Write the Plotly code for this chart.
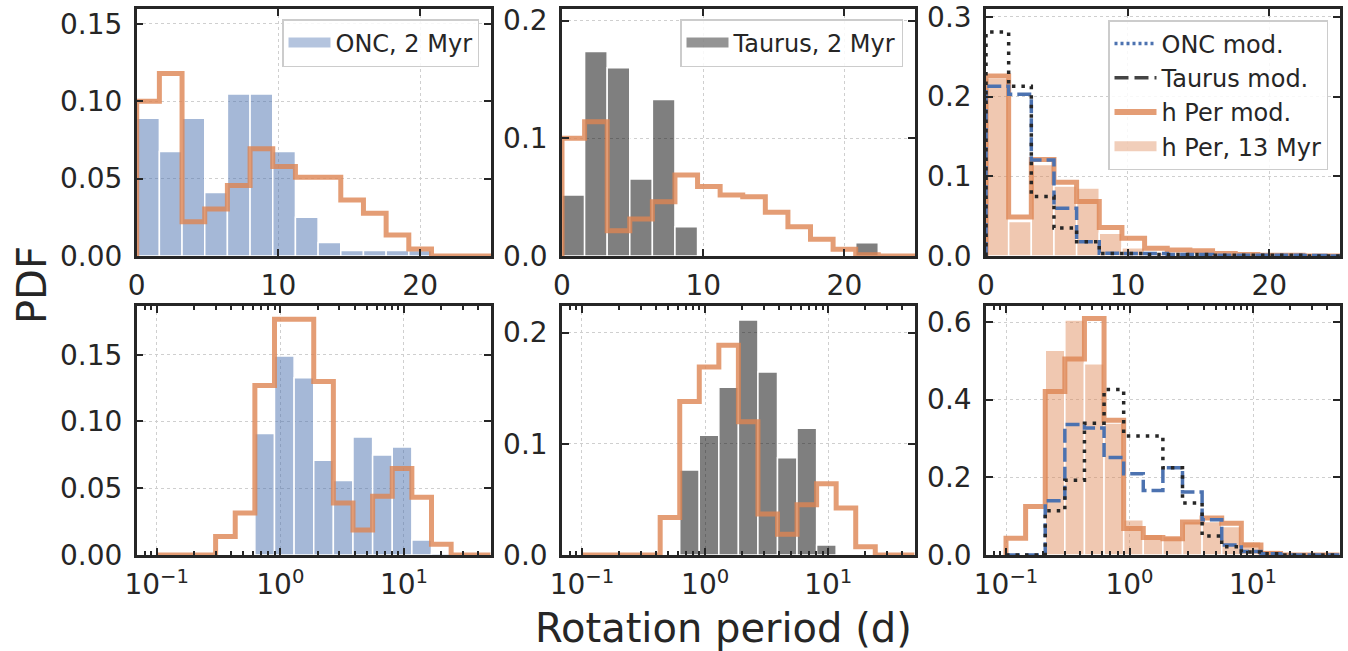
import numpy as np
import plotly.graph_objects as go

# ---------------- data ----------------
# linear bins (top row), width 1.6 d
lin_edges = [0.0, 1.6, 3.2, 4.8, 6.4, 8.0, 9.6, 11.2, 12.8, 14.4, 16.0, 17.6, 19.2, 20.8, 22.4, 24.0, 25.6]
# logarithmic bins (bottom row), 17 bins from 0.1 to 50 d
log_edges = list(np.logspace(-1, np.log10(50), 18))

# top row (linear bins)
onc_obs_lin = [0.089, 0.0675, 0.089, 0.041, 0.1047, 0.1047, 0.0675, 0.025, 0.0088, 0.0035, 0.0035, 0.0035, 0.0035, 0, 0, 0]
onc_hper_lin = [0.100, 0.118, 0.0222, 0.0304, 0.0455, 0.0694, 0.0578, 0.0509, 0.0509, 0.0362, 0.0276, 0.0136, 0.0045, 0, 0, 0]
tau_obs_lin = [0.0518, 0.1737, 0.160, 0.0654, 0.133, 0.0249, 0, 0, 0, 0, 0, 0, 0, 0.0113, 0, 0]
tau_hper_lin = [0.100, 0.114, 0.0215, 0.0314, 0.046, 0.0688, 0.059, 0.0518, 0.0504, 0.0371, 0.0249, 0.0142, 0.0057, 0.001, 0, 0]
hper_obs_lin = [0.223, 0.0432, 0.1147, 0.088, 0.0853, 0.0286, 0.0105, 0.004, 0.002, 0.002, 0.001, 0, 0, 0, 0, 0]
hper_mod_lin = [0.226, 0.0488, 0.121, 0.0924, 0.0685, 0.0357, 0.0223, 0.0097, 0.0075, 0.0065, 0.003, 0.002, 0.001, 0.001, 0, 0]
onc_mod_lin = [0.213, 0.203, 0.1205, 0.060, 0.018, 0.0034, 0.003, 0.003, 0.002, 0.002, 0.001, 0.001, 0.001, 0.001, 0.0005, 0]
tau_mod_lin = [0.281, 0.213, 0.0748, 0.035, 0.018, 0.003, 0.003, 0.002, 0.002, 0.002, 0.001, 0.001, 0.001, 0.001, 0, 0]

# bottom row (log bins)
onc_obs_log = [0, 0, 0, 0, 0, 0.091, 0.149, 0.1327, 0.0709, 0.0558, 0.0884, 0.0749, 0.0809, 0.0113, 0.0013, 0, 0]
onc_hper_log = [0, 0, 0, 0.0138, 0.0314, 0.127, 0.1766, 0.1766, 0.130, 0.039, 0.0188, 0.044, 0.0648, 0.0432, 0.008, 0, 0]
tau_obs_log = [0, 0, 0, 0, 0, 0.0763, 0.1077, 0.1508, 0.2112, 0.1644, 0.0875, 0.114, 0.009, 0, 0, 0, 0]
tau_hper_log = [0, 0, 0, 0, 0.0338, 0.138, 0.169, 0.1885, 0.1198, 0.0368, 0.0187, 0.0452, 0.064, 0.0422, 0.0075, 0, 0]
hper_obs_log = [0, 0, 0.527, 0.605, 0.4925, 0.34, 0.0907, 0.0535, 0.0474, 0.0863, 0.0863, 0.0734, 0.035, 0.013, 0, 0, 0]
hper_mod_log = [0.043, 0.125, 0.421, 0.505, 0.609, 0.347, 0.068, 0.045, 0.042, 0.085, 0.095, 0.082, 0.026, 0.004, 0, 0, 0]
onc_mod_log = [0, 0, 0.14, 0.336, 0.327, 0.251, 0.209, 0.166, 0.2246, 0.162, 0.091, 0.026, 0.009, 0.003, 0, 0, 0]
tau_mod_log = [0, 0, 0.114, 0.1926, 0.3396, 0.426, 0.3067, 0.3067, 0.2246, 0.134, 0.049, 0.0215, 0.008, 0.003, 0, 0, 0]

x_ticks_lin = [0, 10, 20]
x_ticks_log = [0.1, 1, 10]
x_ticktext_log = ["10<sup>−1</sup>", "10<sup>0</sup>", "10<sup>1</sup>"]
minor_log = [0.07, 0.08, 0.09] + [k * 0.1 for k in range(2, 10)] + list(range(2, 10)) + [20, 30, 40, 50]

legend_labels = ["ONC, 2 Myr", "Taurus, 2 Myr", "ONC mod.", "Taurus mod.", "h Per mod.", "h Per, 13 Myr"]

# ---------------- styles ----------------
BLUE_BAR = "rgba(76,114,176,0.5)"
GRAY_BAR = "rgba(0,0,0,0.5)"
ORANGE_BAR = "rgba(221,132,82,0.45)"
ORANGE_LINE = "rgba(221,132,82,0.8)"
BLUE_LINE = "#4c72b0"
BLACK_LINE = "#262626"
TXT = "#262626"
FONT = "DejaVu Sans"

W, H = 1348, 651
xdom = [(136.7 / W, 491 / W), (562 / W, 915 / W), (986 / W, 1340 / W)]
ydom = [(1 - 256 / H, 1 - 9.3 / H), (1 - 555 / H, 1 - 305.7 / H)]
LOG_RANGE = [-1.162, 1.704]

fig = go.Figure()


def step_xy(edges, vals):
    x = [edges[0]] + list(edges) + [edges[-1]]
    y = [0] + list(vals) + [vals[-1], 0]
    return x, y


def add_bars(edges, vals, color, ax):
    e = np.array(edges, dtype=float)
    centers = (e[:-1] + e[1:]) / 2
    widths = e[1:] - e[:-1]
    fig.add_trace(go.Bar(x=list(centers), y=vals, width=list(widths),
                         marker=dict(color=color, line=dict(color="white", width=1.5)),
                         showlegend=False, xaxis="x" + ax, yaxis="y" + ax))


def add_step(edges, vals, color, width, dash, ax):
    x, y = step_xy(edges, vals)
    fig.add_trace(go.Scatter(x=x, y=y, mode="lines", line=dict(shape="hv", color=color, width=width, dash=dash),
                             showlegend=False, xaxis="x" + ax, yaxis="y" + ax, hoverinfo="skip"))


def add_legend_line(name, color, width, dash, ax, legend):
    fig.add_trace(go.Scatter(x=[None], y=[None], mode="lines", name=name,
                             line=dict(color=color, width=width, dash=dash),
                             xaxis="x" + ax, yaxis="y" + ax, legend=legend, showlegend=True))


# panel 1 (top-left)
add_bars(lin_edges, onc_obs_lin, BLUE_BAR, "")
add_step(lin_edges, onc_hper_lin, ORANGE_LINE, 5, "solid", "")
add_legend_line(legend_labels[0], "rgba(76,114,176,0.42)", 13, "solid", "", "legend")
# panel 2 (top-middle)
add_bars(lin_edges, tau_obs_lin, GRAY_BAR, "2")
add_step(lin_edges, tau_hper_lin, ORANGE_LINE, 5, "solid", "2")
add_legend_line(legend_labels[1], "rgba(0,0,0,0.42)", 13, "solid", "2", "legend2")
# panel 3 (top-right)
add_bars(lin_edges, hper_obs_lin, ORANGE_BAR, "3")
add_step(lin_edges, hper_mod_lin, ORANGE_LINE, 5, "solid", "3")
add_step(lin_edges, onc_mod_lin, BLUE_LINE, 3.5, "14px,5px", "3")
add_step(lin_edges, tau_mod_lin, BLACK_LINE, 3.5, "3.5px,6px", "3")
add_legend_line(legend_labels[2], BLUE_LINE, 3.5, "3px,3px", "3", "legend3")
add_legend_line(legend_labels[3], "#444444", 3.5, "14px,6px", "3", "legend3")
add_legend_line(legend_labels[4], ORANGE_LINE, 6, "solid", "3", "legend3")
add_legend_line(legend_labels[5], "rgba(221,132,82,0.4)", 13, "solid", "3", "legend3")
# panel 4 (bottom-left)
add_bars(log_edges, onc_obs_log, BLUE_BAR, "4")
add_step(log_edges, onc_hper_log, ORANGE_LINE, 5, "solid", "4")
# panel 5 (bottom-middle)
add_bars(log_edges, tau_obs_log, GRAY_BAR, "5")
add_step(log_edges, tau_hper_log, ORANGE_LINE, 5, "solid", "5")
# panel 6 (bottom-right)
add_bars(log_edges, hper_obs_log, ORANGE_BAR, "6")
add_step(log_edges, hper_mod_log, ORANGE_LINE, 5, "solid", "6")
add_step(log_edges, onc_mod_log, BLUE_LINE, 3.5, "14px,5px", "6")
add_step(log_edges, tau_mod_log, BLACK_LINE, 3.5, "3.5px,6px", "6")

# invisible traces that attach the top-side tick axes of the bottom row
for k in ["7", "8", "9"]:
    fig.add_trace(go.Scatter(x=[None], y=[None], mode="lines", showlegend=False,
                             xaxis="x" + k, yaxis="y" + k, hoverinfo="skip"))


def axis_common():
    return dict(showline=True, linecolor=TXT, linewidth=2.5, mirror="allticks",
                ticks="inside", ticklen=7, tickwidth=1.8, tickcolor=TXT, automargin=False,
                showgrid=True, gridcolor="#cfcfcf", griddash="dot", gridwidth=1.2,
                zeroline=False, tickfont=dict(family=FONT, size=28, color=TXT))


def minor_ticks():
    return dict(tickvals=minor_log, ticks="inside", ticklen=4, tickwidth=1.5, tickcolor=TXT, showgrid=False)


yranges = [0.1595, 0.2096, 0.3096, 0.1867, 0.2241, 0.642]
yticks = [[0, 0.05, 0.10, 0.15], [0, 0.1, 0.2], [0, 0.1, 0.2, 0.3],
          [0, 0.05, 0.10, 0.15], [0, 0.1, 0.2], [0, 0.2, 0.4, 0.6]]
yfmt = [".2f", ".1f", ".1f", ".2f", ".1f", ".1f"]

layout_axes = {}
for i in range(6):
    row, col = divmod(i, 3)
    suffix = "" if i == 0 else str(i + 1)
    xa = axis_common()
    xa.update(domain=list(xdom[col]), anchor="y" + suffix, ticklabelstandoff=3)
    if row == 0:
        xa.update(range=[0, 25], tickvals=x_ticks_lin)
    else:
        xa.update(type="log", range=LOG_RANGE, tickvals=x_ticks_log, ticktext=x_ticktext_log,
                  minor=minor_ticks())
        k = str(i + 4)
        # top-side tick axis (own hidden y axis) carrying the major + minor ticks
        layout_axes["xaxis" + k] = dict(
            type="log", range=LOG_RANGE, domain=list(xdom[col]), anchor="y" + k, side="top",
            tickvals=x_ticks_log, showticklabels=False, ticks="inside", ticklen=7, tickwidth=1.8,
            tickcolor=TXT, showgrid=False, showline=False, zeroline=False, automargin=False,
            minor=minor_ticks())
        layout_axes["yaxis" + k] = dict(
            domain=list(ydom[row]), anchor="x" + k, range=[0, 1], visible=False,
            showgrid=False, zeroline=False, automargin=False)
    ya = axis_common()
    ya.update(domain=list(ydom[row]), anchor="x" + suffix, range=[0, yranges[i]],
              tickvals=yticks[i], tickformat=yfmt[i], ticklabelstandoff=6)
    layout_axes["xaxis" + suffix] = xa
    layout_axes["yaxis" + suffix] = ya

legend_common = dict(bgcolor="rgba(255,255,255,0.85)", bordercolor="#cccccc", borderwidth=1.5,
                     font=dict(family=FONT, size=24, color=TXT), xanchor="right", yanchor="top",
                     itemwidth=42, tracegroupgap=4)

fig.update_layout(
    width=W, height=H,
    margin=dict(l=0, r=0, t=0, b=0, autoexpand=False),
    paper_bgcolor="white", plot_bgcolor="rgba(0,0,0,0)",
    barmode="overlay",
    font=dict(family=FONT, color=TXT),
    legend=dict(x=479 / W, y=1 - 19 / H, **legend_common),
    legend2=dict(x=903 / W, y=1 - 19 / H, **legend_common),
    legend3=dict(x=1328 / W, y=1 - 20 / H, **legend_common),
    annotations=[
        dict(text="PDF", x=32 / W, y=1 - 285 / H, xref="paper", yref="paper", showarrow=False,
             xanchor="center", yanchor="middle",
             textangle=-90, font=dict(family=FONT, size=40, color=TXT)),
        dict(text="Rotation period (d)", x=723.5 / W, y=1 - 628 / H, xref="paper", yref="paper",
             xanchor="center", yanchor="middle",
             showarrow=False, font=dict(family=FONT, size=40, color=TXT)),
    ],
    **layout_axes,
)

fig.write_html("out.html", config={"displayModeBar": False},
               post_script="document.body.style.margin='0px';document.body.style.overflow='hidden';")
